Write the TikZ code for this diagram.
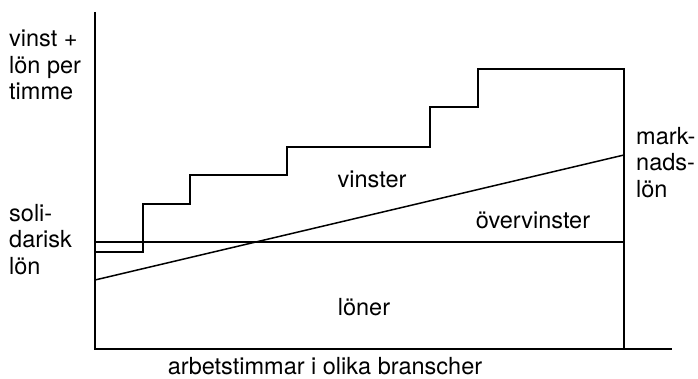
\documentclass[tikz,border=0pt]{standalone}
\usepackage{fontspec}
\setmainfont{TeX Gyre Heros}
\usetikzlibrary{positioning}
\tikzset{
	lbl/.style={inner sep=0pt, font=\fontsize{23.5}{26.5}\selectfont},
	lblock/.style={lbl, align=left, anchor=base west},
	kurva/.style={line width=1.5pt, line join=miter}
}

\begin{document}
\begin{tikzpicture}[x=1pt,y=1pt]
	\useasboundingbox (-95,-29) rectangle (603,349);
	\coordinate (O) at (0,0);
	\coordinate (ytop) at (0,337);
	\coordinate (xend) at (577,0);
	\coordinate (hogertopp) at (529,280);
	\coordinate (hogerfot) at (529,0);
	\draw[kurva] (ytop) -- (O) -- (xend);%axlar
	\draw[kurva] (0,97) -| (48,145) -| (95,174) -| (192,202) -| (335,242) -| (383,280) -- (hogertopp) -- (hogerfot);%vinst+lon
	\coordinate (sol1) at (0,107);
	\coordinate (sol2) at (529,107);
	\draw[kurva] (sol1) -- (sol2);%solidarisk lon
	\coordinate (mark1) at (0,69);
	\coordinate (mark2) at (529,194);
	\draw[kurva] (mark1) -- (mark2);%marknadslon
	\node[lblock] (yaxel) at (-86,249) {vinst +\\l\"on per\\timme};
	\node[lblock] (solid) at (-86,75) {soli-\\darisk\\l\"on};
	\node[lblock] (marknad) at (541,152) {mark-\\nads-\\l\"on};
	\node[lbl, anchor=base] (vinster) at (277,162) {vinster};
	\node[lbl, anchor=base] (overvinster) at (438,121) {\"overvinster};
	\node[lbl, anchor=base] (loner) at (269,34) {l\"oner};
	\node[lbl, anchor=base] (xaxel) at (230,-25) {arbetstimmar i olika branscher};
\end{tikzpicture}
\end{document}
